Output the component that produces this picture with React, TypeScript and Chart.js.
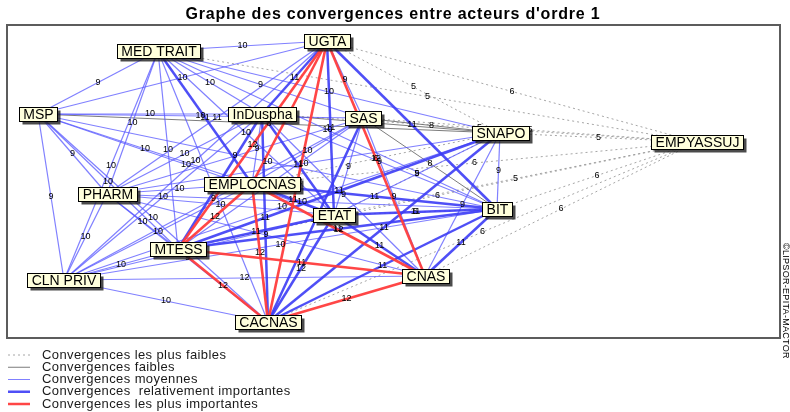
import React, { useEffect, useRef } from "react";
import { Chart, registerables } from "chart.js";

Chart.register(...registerables);

const chartTitle = "Graphe des convergences entre acteurs d'ordre 1";
const copyright = "©LIPSOR-EPITA-MACTOR";

// Actors and their position on the MACTOR map
const actors = ["UGTA", "MED TRAIT", "MSP", "InDuspha", "SAS", "SNAPO", "EMPYASSUJ", "EMPLOCNAS", "PHARM", "ETAT", "BIT", "MTESS", "CLN PRIV", "CNAS", "CACNAS"];
const actorX = [319, 150, 30, 254, 355, 492, 689, 244, 99, 326, 489, 170, 56, 417, 260];
const actorY = [16, 26, 89, 89, 93, 108, 117, 159, 169, 190, 184, 224, 255, 251, 297];

// Convergence links [actor A, actor B, intensity]
const weakestLinks: [string, string, number][] = [
  ["UGTA", "EMPYASSUJ", 6], ["MED TRAIT", "EMPYASSUJ", 5], ["InDuspha", "EMPYASSUJ", 5], ["SAS", "EMPYASSUJ", 5],
  ["SNAPO", "EMPYASSUJ", 5], ["EMPLOCNAS", "EMPYASSUJ", 6], ["ETAT", "EMPYASSUJ", 5], ["BIT", "EMPYASSUJ", 6],
  ["MTESS", "EMPYASSUJ", 6], ["CNAS", "EMPYASSUJ", 6], ["CACNAS", "EMPYASSUJ", 6], ["SNAPO", "ETAT", 5],
  ["ETAT", "BIT", 5], ["EMPLOCNAS", "SNAPO", 6], ["UGTA", "SNAPO", 5],
];
const weakLinks: [string, string, number][] = [
  ["MSP", "SNAPO", 8], ["InDuspha", "SNAPO", 8], ["SAS", "SNAPO", 8], ["SAS", "BIT", 8],
];
const averageLinks: [string, string, number][] = [
  ["UGTA", "MED TRAIT", 10], ["UGTA", "MSP", 10], ["UGTA", "PHARM", 11], ["UGTA", "CLN PRIV", 10], ["UGTA", "SAS", 9],
  ["MED TRAIT", "MSP", 9], ["MED TRAIT", "InDuspha", 10], ["MED TRAIT", "SAS", 9], ["MED TRAIT", "SNAPO", 10],
  ["MED TRAIT", "PHARM", 10], ["MED TRAIT", "ETAT", 10], ["MED TRAIT", "BIT", 10], ["MED TRAIT", "MTESS", 10],
  ["MED TRAIT", "CLN PRIV", 10], ["MED TRAIT", "CACNAS", 10],
  ["MSP", "InDuspha", 10], ["MSP", "SAS", 10], ["MSP", "EMPLOCNAS", 10], ["MSP", "PHARM", 9], ["MSP", "ETAT", 10],
  ["MSP", "BIT", 10], ["MSP", "MTESS", 10], ["MSP", "CLN PRIV", 9], ["MSP", "CACNAS", 10],
  ["InDuspha", "EMPLOCNAS", 9], ["InDuspha", "PHARM", 10], ["InDuspha", "BIT", 9], ["InDuspha", "CLN PRIV", 10], ["InDuspha", "CNAS", 9],
  ["SAS", "EMPLOCNAS", 10], ["SAS", "PHARM", 9], ["SAS", "ETAT", 9], ["SAS", "MTESS", 10], ["SAS", "CLN PRIV", 9], ["SAS", "CNAS", 9],
  ["SNAPO", "PHARM", 10], ["SNAPO", "ETAT", 9], ["SNAPO", "BIT", 9], ["SNAPO", "CLN PRIV", 10], ["SNAPO", "CNAS", 9],
  ["EMPLOCNAS", "PHARM", 10], ["EMPLOCNAS", "CLN PRIV", 10],
  ["PHARM", "ETAT", 10], ["PHARM", "BIT", 10], ["PHARM", "MTESS", 10], ["PHARM", "CLN PRIV", 10], ["PHARM", "CNAS", 9], ["PHARM", "CACNAS", 9],
  ["ETAT", "CLN PRIV", 11], ["BIT", "CLN PRIV", 10], ["MTESS", "CLN PRIV", 10], ["CLN PRIV", "CNAS", 12], ["CLN PRIV", "CACNAS", 10],
];
const strongLinks: [string, string, number][] = [
  ["UGTA", "InDuspha", 11], ["UGTA", "ETAT", 11], ["UGTA", "BIT", 11], ["MED TRAIT", "EMPLOCNAS", 11],
  ["InDuspha", "ETAT", 11], ["InDuspha", "CACNAS", 11], ["InDuspha", "MTESS", 11],
  ["EMPLOCNAS", "ETAT", 11], ["EMPLOCNAS", "BIT", 11], ["ETAT", "BIT", 11], ["ETAT", "MTESS", 11],
  ["ETAT", "CNAS", 11], ["ETAT", "CACNAS", 12], ["BIT", "MTESS", 11], ["BIT", "CNAS", 11], ["BIT", "CACNAS", 11],
  ["SNAPO", "MTESS", 11], ["SNAPO", "CACNAS", 11], ["SAS", "CACNAS", 11],
];
const strongestLinks: [string, string, number][] = [
  ["UGTA", "EMPLOCNAS", 12], ["UGTA", "MTESS", 12], ["UGTA", "CNAS", 12], ["UGTA", "CACNAS", 12],
  ["EMPLOCNAS", "MTESS", 12], ["EMPLOCNAS", "CNAS", 12], ["EMPLOCNAS", "CACNAS", 12],
  ["MTESS", "CNAS", 11], ["MTESS", "CACNAS", 12], ["CNAS", "CACNAS", 12],
];

const linkGroups = [weakestLinks, weakLinks, averageLinks, strongLinks, strongestLinks];
const legendLabels = [
  "Convergences les plus faibles",
  "Convergences faibles",
  "Convergences moyennes",
  "Convergences  relativement importantes",
  "Convergences les plus importantes",
];

const levelStyles = [
  { color: "rgba(150,150,150,0.85)", width: 1, dash: [2, 3] },
  { color: "rgba(110,110,110,0.9)", width: 1, dash: [] as number[] },
  { color: "rgba(85,85,255,0.75)", width: 1.2, dash: [] as number[] },
  { color: "rgba(60,60,245,0.9)", width: 2.5, dash: [] as number[] },
  { color: "rgba(255,60,60,0.95)", width: 2.6, dash: [] as number[] },
];

const FONT = "'Liberation Sans', Arial, sans-serif";

const idx = (name: string) => actors.indexOf(name);

const decorPlugin = {
  id: "mactorDecor",
  beforeDraw(chart: any) {
    const { ctx, width, height } = chart;
    ctx.save();
    ctx.fillStyle = "#ffffff";
    ctx.fillRect(0, 0, width, height);
    ctx.restore();
  },
  afterDatasetsDraw(chart: any) {
    const { ctx, chartArea } = chart;
    const xs = chart.scales.x;
    const ys = chart.scales.y;
    const px = (i: number) => xs.getPixelForValue(actorX[i]);
    const py = (i: number) => ys.getPixelForValue(actorY[i]);
    ctx.save();

    // link intensity labels
    ctx.font = `9px ${FONT}`;
    ctx.fillStyle = "#000";
    ctx.textAlign = "center";
    ctx.textBaseline = "middle";
    linkGroups.forEach((group) => {
      group.forEach(([a, b, v]) => {
        const i = idx(a), j = idx(b);
        ctx.fillText(String(v), (px(i) + px(j)) / 2, (py(i) + py(j)) / 2);
      });
    });

    // frame
    ctx.strokeStyle = "#5c5c5c";
    ctx.lineWidth = 2;
    ctx.strokeRect(chartArea.left - 1, chartArea.top, chartArea.right - chartArea.left + 1, chartArea.bottom - chartArea.top);

    // actor boxes
    ctx.font = `14px ${FONT}`;
    actors.forEach((name, i) => {
      const tw = ctx.measureText(name).width;
      const w = Math.round(tw + 8);
      const h = 14;
      const x = Math.round(px(i) - w / 2) + 0.5;
      const y = Math.round(py(i) - h / 2) + 0.5;
      ctx.fillStyle = "rgba(30,30,30,0.8)";
      ctx.fillRect(x + 3, y + 3, w, h);
      ctx.fillStyle = "#ffffdc";
      ctx.fillRect(x, y, w, h);
      ctx.strokeStyle = "#000";
      ctx.lineWidth = 1;
      ctx.strokeRect(x, y, w, h);
      ctx.fillStyle = "#000";
      ctx.textAlign = "center";
      ctx.textBaseline = "middle";
      ctx.fillText(name, x + w / 2, y + h / 2 + 1);
    });

    // title
    ctx.font = `bold 16px ${FONT}`;
    (ctx as any).letterSpacing = "0.8px";
    ctx.fillStyle = "#000";
    ctx.textAlign = "center";
    ctx.textBaseline = "middle";
    ctx.fillText(chartTitle, 393, 15);

    // legend
    ctx.font = `13px ${FONT}`;
    (ctx as any).letterSpacing = "0.4px";
    ctx.textAlign = "left";
    legendLabels.forEach((label, k) => {
      const y = 355 + k * 12.25;
      const st = levelStyles[k];
      ctx.beginPath();
      ctx.strokeStyle = st.color;
      ctx.lineWidth = k >= 3 ? 2.5 : 1;
      ctx.setLineDash(st.dash);
      ctx.moveTo(8, y);
      ctx.lineTo(30, y);
      ctx.stroke();
      ctx.setLineDash([]);
      ctx.fillStyle = "#1a1a1a";
      ctx.fillText(label, 42, y);
    });

    // copyright
    (ctx as any).letterSpacing = "0.3px";
    ctx.translate(785, 243);
    ctx.rotate(Math.PI / 2);
    ctx.font = `9px ${FONT}`;
    ctx.fillStyle = "#000";
    ctx.textAlign = "left";
    ctx.textBaseline = "middle";
    ctx.fillText(copyright, 0, 0);
    ctx.restore();
  },
};

export default function App() {
  const canvasRef = useRef<HTMLCanvasElement | null>(null);

  useEffect(() => {
    document.body.style.margin = "0";
    const canvas = canvasRef.current;
    if (!canvas) return;

    const datasets: any[] = [];
    linkGroups.forEach((group, level) => {
      const st = levelStyles[level];
      group.forEach(([a, b, v]) => {
        const i = idx(a), j = idx(b);
        datasets.push({
          label: `${a} - ${b} (${v})`,
          data: [
            { x: actorX[i], y: actorY[i] },
            { x: actorX[j], y: actorY[j] },
          ],
          showLine: true,
          borderColor: st.color,
          borderWidth: st.width,
          borderDash: st.dash,
          pointRadius: 0,
          pointHoverRadius: 0,
          fill: false,
          order: 4 - level,
        });
      });
    });

    const chart = new Chart(canvas, {
      type: "scatter",
      data: { datasets },
      options: {
        responsive: false,
        animation: false,
        events: [],
        layout: { padding: { left: 8, right: 10, top: 25, bottom: 74 } },
        scales: {
          x: { type: "linear", min: 0, max: 772, display: false },
          y: { type: "linear", min: 0, max: 313, reverse: true, display: false },
        },
        plugins: {
          legend: { display: false },
          tooltip: { enabled: false },
          title: { display: false },
        },
      },
      plugins: [decorPlugin],
    });
    return () => chart.destroy();
  }, []);

  return (
    <div style={{ width: 790, height: 412 }}>
      <canvas ref={canvasRef} width={790} height={412} style={{ display: "block", width: 790, height: 412 }} />
    </div>
  );
}
